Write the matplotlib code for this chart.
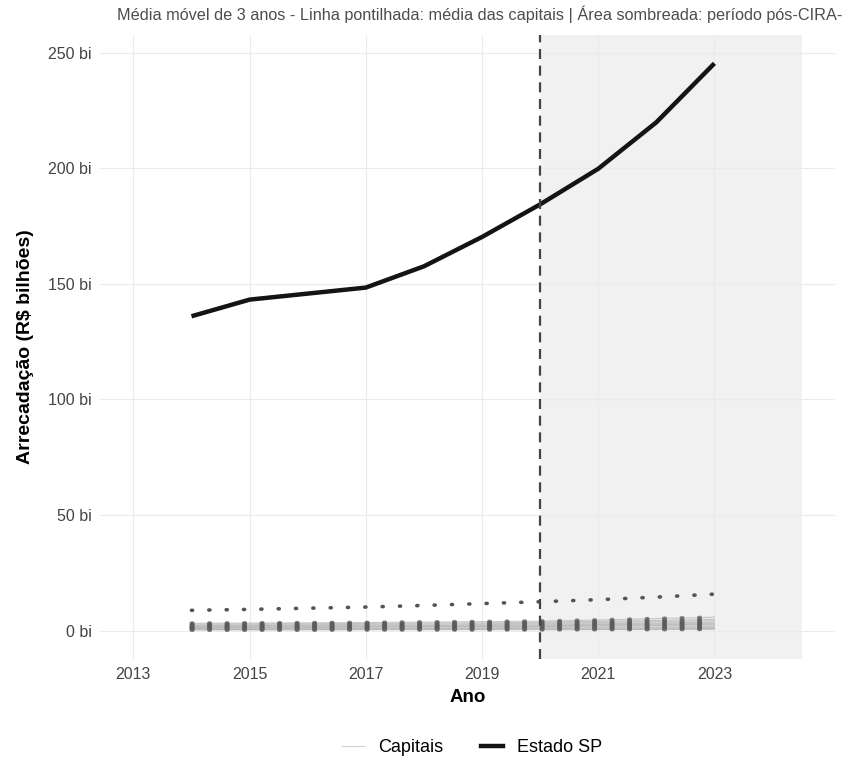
import matplotlib
matplotlib.use("Agg")
import matplotlib.pyplot as plt
from matplotlib.lines import Line2D

plt.rcParams['font.family'] = ['Liberation Sans', 'DejaVu Sans']

anos = [2014, 2015, 2016, 2017, 2018, 2019, 2020, 2021, 2022, 2023]
estado_sp = [136.0, 143.2, 145.8, 148.4, 157.6, 170.3, 184.4, 199.8, 219.9, 245.4]
media_capitais = [8.8, 9.2, 9.7, 10.2, 10.9, 11.7, 12.5, 13.4, 14.5, 15.8]
capitais = [
    [3.2, 3.3, 3.4, 3.5, 3.7, 3.9, 4.1, 4.6, 5.2, 5.8],
    [2.8, 2.9, 3.0, 3.1, 3.2, 3.4, 3.6, 4.0, 4.4, 4.9],
    [2.4, 2.5, 2.6, 2.7, 2.8, 3.0, 3.2, 3.5, 3.9, 4.3],
    [2.1, 2.2, 2.2, 2.3, 2.4, 2.6, 2.8, 3.0, 3.3, 3.7],
    [1.8, 1.9, 1.9, 2.0, 2.1, 2.2, 2.4, 2.6, 2.9, 3.2],
    [1.5, 1.6, 1.6, 1.7, 1.8, 1.9, 2.1, 2.3, 2.5, 2.8],
    [1.3, 1.4, 1.4, 1.5, 1.6, 1.7, 1.8, 2.0, 2.2, 2.4],
    [1.0, 1.0, 1.1, 1.1, 1.2, 1.3, 1.4, 1.5, 1.6, 1.8],
    [0.7, 0.7, 0.8, 0.8, 0.9, 0.9, 1.0, 1.1, 1.2, 1.3],
    [0.5, 0.5, 0.5, 0.6, 0.6, 0.6, 0.7, 0.7, 0.8, 0.9],
    [0.3, 0.3, 0.3, 0.4, 0.4, 0.4, 0.4, 0.5, 0.5, 0.6],
]
x_ticks = [2013, 2015, 2017, 2019, 2021, 2023]
y_ticks = [0, 50, 100, 150, 200, 250]
y_labels = ["0 bi", "50 bi", "100 bi", "150 bi", "200 bi", "250 bi"]
ano_cira = 2020
fim_periodo = 2024.5
inicio_periodo = 2013

W, H = 846, 760
fig = plt.figure(figsize=(W / 100, H / 100), dpi=100)
ax = fig.add_axes([100 / W, 1 - 659 / H, (835 - 100) / W, (659 - 35) / H])

ax.axvspan(ano_cira, fim_periodo, color='#f1f1f1', zorder=0.5, lw=0)

for serie in capitais:
    ax.plot(anos, serie, color='#a8a8a8', lw=0.8, alpha=0.6, zorder=2)
    ax.plot(anos, serie, color='#5a5a5a', lw=2.8, alpha=0.75, zorder=2,
            dashes=(0.3, 4.2), dash_capstyle='round', solid_capstyle='round')

ax.plot(anos, media_capitais, color='#555555', lw=2.6, zorder=3,
        dashes=(0.3, 4.5), dash_capstyle='round')

ax.plot(anos, estado_sp, color='#141414', lw=3.2, zorder=4, solid_capstyle='butt')

ax.axvline(ano_cira, color='#444444', lw=1.6, dashes=(4.5, 3.0), zorder=5)

xr = fim_periodo - inicio_periodo
ax.set_xlim(inicio_periodo - 0.05 * xr, fim_periodo + 0.05 * xr)
ymax = max(estado_sp)
ax.set_ylim(-0.05 * ymax, ymax * 1.05)

ax.set_xticks(x_ticks)
ax.set_xticklabels([str(t) for t in x_ticks])
ax.set_yticks(y_ticks)
ax.set_yticklabels(y_labels)
ax.tick_params(length=0, labelsize=11.5, labelcolor='#444444', pad=6)
ax.grid(True, color='#ebebeb', lw=0.8, zorder=0)
ax.set_axisbelow(True)
for s in ax.spines.values():
    s.set_visible(False)

ax.set_xlabel("Ano", fontsize=13.5, fontweight='bold', labelpad=5)
ax.set_ylabel("Arrecadação (R$ bilhões)", fontsize=14, fontweight='bold', labelpad=10)

fig.text(117 / W, 1 - 14 / H,
         "Média móvel de 3 anos - Linha pontilhada: média das capitais | Área sombreada: período pós-CIRA-",
         ha='left', va='center', fontsize=11.7, color='#4d4d4d')

handles = [Line2D([], [], color='#d0d0d0', lw=0.8),
           Line2D([], [], color='#141414', lw=3.2)]
fig.legend(handles, ["Capitais", "Estado SP"], loc='center', bbox_to_anchor=(0.558, 1 - 748 / H),
           ncol=2, frameon=False, fontsize=13, handlelength=1.2, columnspacing=2.1, handletextpad=0.8)

fig.savefig("out.png", dpi=100)
